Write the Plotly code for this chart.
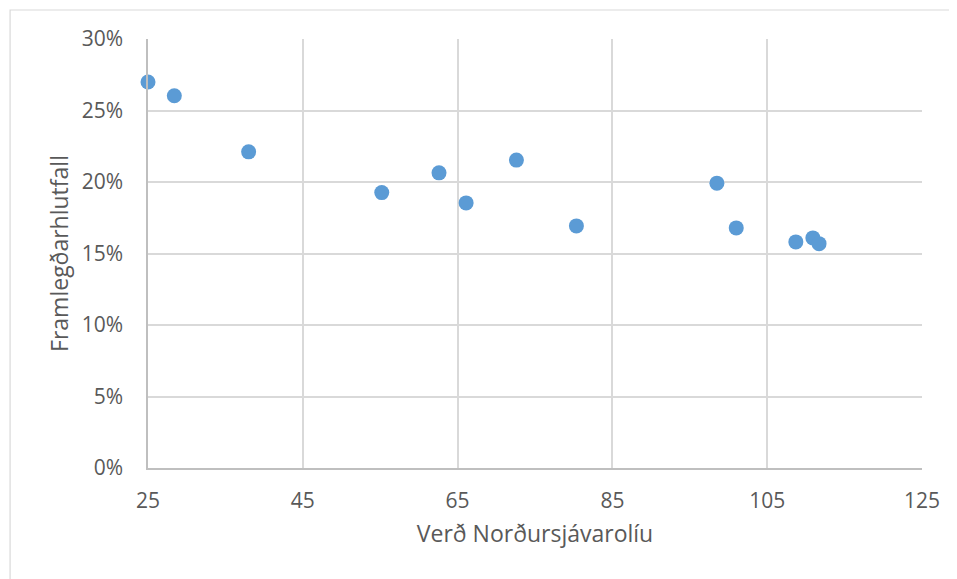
import plotly.graph_objects as go

oil_price = [25.0, 28.4, 38.0, 55.2, 62.6, 66.1, 72.6, 80.35, 98.5, 101.0, 108.7, 110.9, 111.7]
margin_ratio = [0.2699, 0.2603, 0.2211, 0.1926, 0.2064, 0.1854, 0.2153, 0.1693, 0.1992, 0.1679, 0.1581, 0.1609, 0.1569]

x_ticks = [25, 45, 65, 85, 105, 125]
y_ticks = [0, 0.05, 0.10, 0.15, 0.20, 0.25, 0.30]
y_tick_labels = ["0%", "5%", "10%", "15%", "20%", "25%", "30%"]

FONT = "Open Sans"
TXT = "#595959"
GRID = "#d9d9d9"

# page body has an 8px offset
W, H = 949, 571
L, T = 140, 31
R = W - (922.5 - 8)
B = H - (467.7 - 8)
pw = W - L - R
ph = H - T - B

fig = go.Figure()
fig.add_trace(go.Scatter(
    x=oil_price, y=margin_ratio, mode="markers",
    marker=dict(size=15, color="#5B9BD5", line=dict(width=0)),
    cliponaxis=False, showlegend=False,
))

fig.update_layout(
    width=W, height=H,
    margin=dict(l=L, r=R, t=T, b=B, pad=0),
    paper_bgcolor="white", plot_bgcolor="white",
    font=dict(family=FONT, color=TXT, size=20),
    xaxis=dict(
        range=[25, 125], tickvals=x_ticks, ticktext=[str(v) for v in x_ticks],
        showgrid=True, gridcolor=GRID, gridwidth=1.5,
        showline=True, linecolor="#bfbfbf", linewidth=1.5, mirror=False,
        zeroline=False, ticks="", ticklabelstandoff=13,
        tickfont=dict(size=21, color=TXT, family=FONT),
        title=dict(text="Verð Norðursjávarolíu", font=dict(size=23, color=TXT, family=FONT), standoff=13),
    ),
    yaxis=dict(
        range=[0, 0.30], tickvals=y_ticks, ticktext=y_tick_labels,
        showgrid=True, gridcolor=GRID, gridwidth=1.5,
        showline=True, linecolor="#bfbfbf", linewidth=1.5,
        zeroline=False, ticks="", ticklabelstandoff=19,
        tickfont=dict(size=21, color=TXT, family=FONT),
        title=dict(text="Framlegðarhlutfall", font=dict(size=23, color=TXT, family=FONT), standoff=7),
    ),
    shapes=[dict(
        type="rect", xref="paper", yref="paper",
        x0=(2 - L) / pw, x1=(1000 - L) / pw,
        y0=-(700 - (H - B)) / ph, y1=((H - B) - 2) / ph,
        line=dict(color=GRID, width=1.2), fillcolor="rgba(0,0,0,0)", layer="below",
    )],
)

fig.write_html("out.html")
